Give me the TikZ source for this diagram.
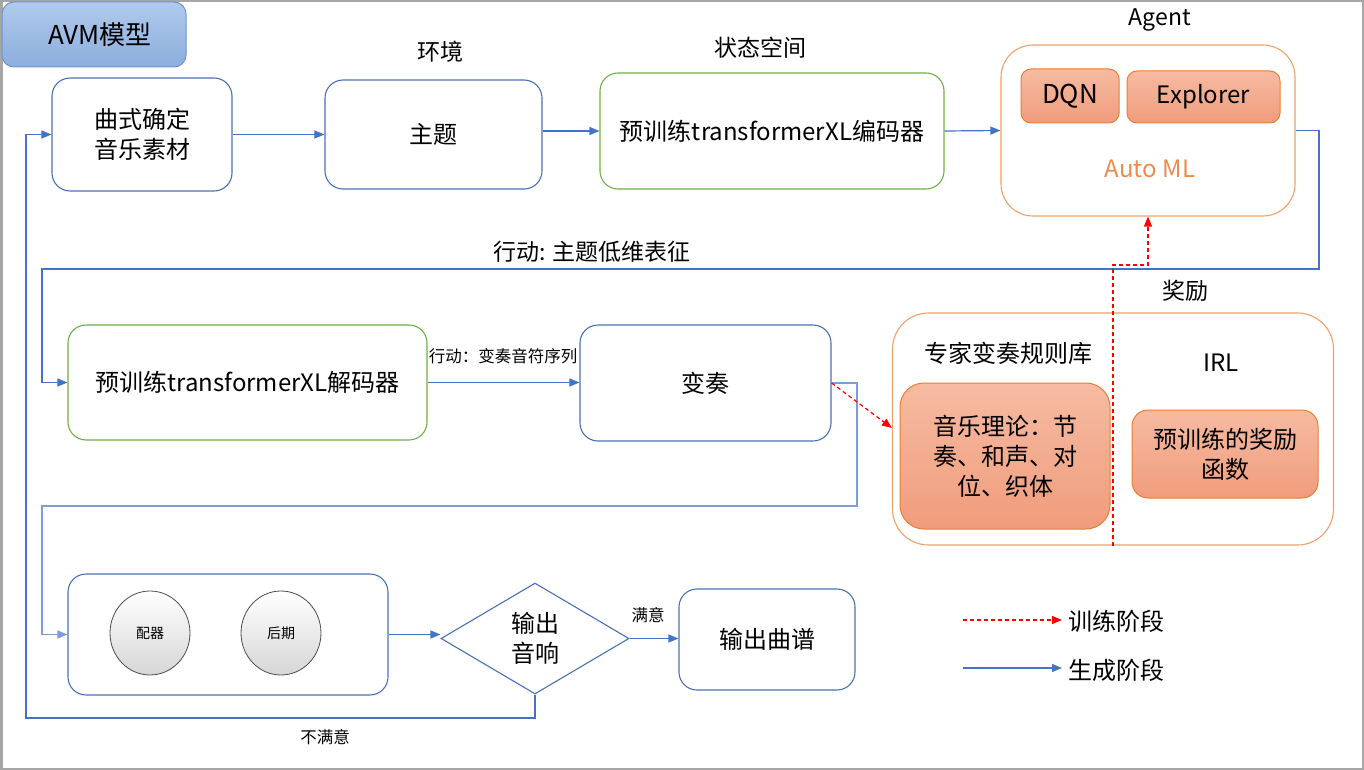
\documentclass[tikz,border=0pt]{standalone}
\usepackage{fontspec}
\setmainfont{Noto Sans CJK SC}
\usetikzlibrary{shapes.geometric,arrows.meta}
\definecolor{bblue}{HTML}{4A70B4}
\definecolor{ablue}{HTML}{4472C4}
\definecolor{lblue}{HTML}{7F9CD4}
\definecolor{ggreen}{HTML}{70AD47}
\definecolor{oline}{HTML}{ED7D31}
\definecolor{oagent}{HTML}{F0A068}
\definecolor{salT}{HTML}{F6BBA2}
\definecolor{salB}{HTML}{F09C7C}
\definecolor{avmT}{HTML}{B0CAEC}
\definecolor{avmB}{HTML}{8BAEDD}
\definecolor{avmL}{HTML}{6D94CB}
\definecolor{frame}{HTML}{A6A6A6}
\definecolor{automl}{HTML}{EE8A4A}
\definecolor{rdash}{HTML}{FF0000}
\newcommand{\fsz}[1]{\fontsize{#1}{30}\selectfont}
\tikzset{
  bx/.style={draw=bblue, line width=1.1pt, rounded corners=18pt, align=center, inner sep=0pt, font=\fsz{24}},
  gbx/.style={bx, draw=ggreen},
  obx/.style={draw=oagent, line width=1.1pt, rounded corners=32pt, inner sep=0pt},
  sal/.style={draw=oline, line width=1pt, top color=salT, bottom color=salB, rounded corners=14pt, align=center, inner sep=0pt, font=\fsz{24}},
  arr/.style={draw=ablue, line width=1.2pt, -{Triangle[length=10pt,width=8pt]}},
  larr/.style={arr, draw=lblue},
  rarr/.style={draw=rdash, line width=1.2pt, dash pattern=on 4pt off 3pt, -{Triangle[length=10pt,width=8pt]}},
  lbl/.style={font=\fsz{23}, inner sep=0pt},
  slbl/.style={font=\fsz{16.5}, inner sep=0pt},
  circ/.style={ellipse, draw=black!70, line width=0.8pt, top color=white, bottom color=black!16, inner sep=0pt, minimum width=80pt, minimum height=84pt, font=\fsz{14}},
}
\begin{document}
\begin{tikzpicture}[x=1pt,y=-1pt]
\useasboundingbox (0,0) rectangle (1364,770);
\draw[frame, line width=2.5pt] (1.25,1.25) rectangle (1362.75,768.75);

% title
\node[draw=avmL, line width=1pt, top color=avmT, bottom color=avmB, rounded corners=12pt, minimum width=184pt, minimum height=65pt, inner sep=0pt] (avm) at (94,34.5) {};
\node[font=\fsz{26}, inner sep=0pt] (avmt) at (100,35) {AVM模型};

% top row
\node[bx, minimum width=180pt, minimum height=113pt] (A) at (142,134.5) {曲式确定\\音乐素材};
\node[bx, minimum width=217pt, minimum height=109pt] (B) at (433.5,134.5) {主题};
\node[gbx, minimum width=344pt, minimum height=116pt, font=\fsz{24}] (enc) at (772,131) {预训练transformerXL编码器};
\node[obx, minimum width=294pt, minimum height=171pt] (agent) at (1148,130.5) {};
\node[sal, minimum width=98pt, minimum height=54pt, rounded corners=10pt, font=\fsz{26}] (dqn) at (1070,96) {DQN};
\node[sal, minimum width=153pt, minimum height=52pt, rounded corners=10pt] (expl) at (1203.5,97) {Explorer};
\node[font=\fsz{24}, text=automl, inner sep=0pt] (automl) at (1150,169) {Auto ML};

\node[lbl] (env) at (440,52) {环境};
\node[lbl] (state) at (760,48) {状态空间};
\node[lbl] (agl) at (1160,20) {Agent};

% middle row
\node[gbx, minimum width=359pt, minimum height=115pt, font=\fsz{24}] (dec) at (247.5,382.5) {预训练transformerXL解码器};
\node[bx, minimum width=251pt, minimum height=116pt] (var) at (705.5,383) {变奏};
\node[draw=oagent, line width=1.1pt, rounded corners=36pt, minimum width=441pt, minimum height=232pt, inner sep=0pt] (expert) at (1113,429) {};
\node[lbl, font=\fsz{24}] (exptitle) at (1008,353) {专家变奏规则库};
\node[lbl, font=\fsz{24}] (irl) at (1221,363) {IRL};
\node[sal, minimum width=210pt, minimum height=146pt, rounded corners=24pt] (mt) at (1005,456) {音乐理论：节\\奏、和声、对\\位、织体};
\node[sal, minimum width=186pt, minimum height=88pt, rounded corners=16pt] (rw) at (1225,454) {预训练的奖励\\函数};

\node[lbl] (act1) at (592,252) {行动: 主题低维表征};
\node[lbl] (reward) at (1185,291) {奖励};
\node[slbl] (act2) at (503,356) {行动：变奏音符序列};

% bottom row
\node[bx, minimum width=320pt, minimum height=121pt] (post) at (228,634.5) {};
\node[circ] (c1) at (150,633) {配器};
\node[circ] (c2) at (281,633) {后期};
\node[diamond, draw=bblue, line width=1.1pt, minimum width=188pt, minimum height=111pt, aspect=1.69, inner sep=0pt, align=center, font=\fsz{24}] (dia) at (535,638.5) {输出\\音响};
\node[bx, minimum width=176pt, minimum height=101pt] (out) at (767,639.5) {输出曲谱};
\node[slbl] (ok) at (648,615) {满意};
\node[slbl] (notok) at (325,737) {不满意};

% legend
\coordinate (l1a) at (963,620);
\coordinate (l1b) at (1062,620);
\coordinate (l2a) at (963,668);
\coordinate (l2b) at (1062,668);
\node[lbl, font=\fsz{24}] (lg1) at (1116,621) {训练阶段};
\node[lbl, font=\fsz{24}] (lg2) at (1116,670) {生成阶段};
\draw[rarr] (l1a) -- (l1b);
\draw[arr] (l2a) -- (l2b);

% connectors
\draw[arr] (A.east) -- (B.west);
\draw[arr] (B.east |- enc.west) -- (enc.west);
\draw[arr] (enc.east) -- (agent.west);
\draw[arr] (agent.east) -- (1319,130.5) -- (1319,269) -- (42,269) -- (42,382.5) -- (dec.west);
\draw[arr] (dec.east) -- (var.west |- dec.east);
\draw[larr] (var.east) -- (857,383) -- (857,506) -- (42,506) -- (42,634.5) -- (post.west);
\draw[rarr] (var.east) -- (expert.west |- 0,428);
\draw[rarr] (expert.south) -- (1113,265) -| (agent.south);
\draw[arr] (post.east) -- (post.east -| dia.west);
\draw[arr] (dia.east) -- (out.west |- dia.east);
\draw[arr] (dia.south) -- (535,718) -- (26,718) -- (26,134.5) -- (A.west);
\end{tikzpicture}
\end{document}
